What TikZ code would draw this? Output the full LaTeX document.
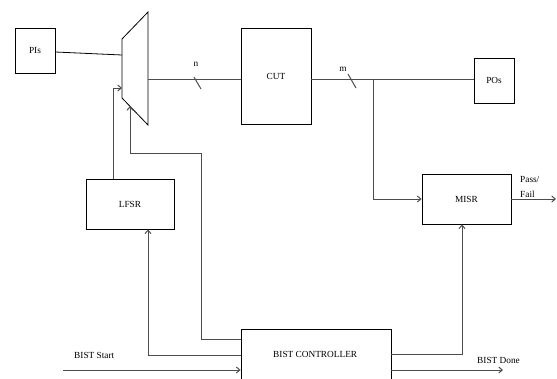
\documentclass[tikz,border=0pt]{standalone}
\usepackage{fontspec}
\setmainfont{Liberation Serif}
\usetikzlibrary{arrows.meta}
\begin{document}
\begin{tikzpicture}[x=1pt,y=-1pt,
  box/.style={draw=black,line width=0.8pt},
  wire/.style={draw=black!70,line width=1pt},
  arr/.style={wire,-{Straight Barb[length=3.5pt,width=6pt]}},
  lbl/.style={font=\fontsize{9.3}{10.5}\selectfont,inner sep=0pt},
  every node/.style={inner sep=0pt}]
\useasboundingbox (0,0) rectangle (557,378);
\clip (0,0) rectangle (557,378);
% boxes
\node[box,minimum width=40pt,minimum height=45pt] (pis) at (35,50.5) {};
\node[lbl] at (pis) {PIs};
\node[box,minimum width=70pt,minimum height=96pt] (cut) at (276,76) {};
\node[lbl] at (276,76) {CUT};
\node[box,minimum width=40pt,minimum height=45pt] (pos) at (494,80.5) {};
\node[lbl] at (pos) {POs};
\node[box,minimum width=89pt,minimum height=50pt] (misr) at (466.5,199) {};
\node[lbl] at (466.5,199) {MISR};
\node[box,minimum width=88pt,minimum height=50pt] (lfsr) at (130,204) {};
\node[lbl] at (130,204) {LFSR};
\node[box,minimum width=150pt,minimum height=70pt] (ctrl) at (316,364) {};
\node[lbl,anchor=west] at (273,354) {BIST CONTROLLER};
% mux
\coordinate (mtl) at (122,39);
\coordinate (mtr) at (148,12);
\coordinate (mbr) at (148,125);
\coordinate (mbl) at (122,98);
\draw[box] (mtl) -- (mtr) -- (mbr) -- (mbl) -- cycle;
\coordinate (muxin) at (122,55);
\coordinate (muxout) at (148,79);
\coordinate (muxsel) at (122,88);
\coordinate (muxctl) at (130,106);
% wires
\draw[box] (pis.east |- 0,52) -- (muxin);
\draw[wire] (muxout) -- (cut.west |- muxout);
\draw[wire] (194,77) -- (201,89);
\node[lbl] at (196,64) {n};
\draw[wire] (cut.east |- 0,79) -- (pos.west |- 0,79);
\draw[wire] (348,74) -- (356,88);
\node[lbl] at (343,69) {m};
\coordinate (br) at (373,79);
\draw[arr] (br) -- (373,199) -- (misr.west);
\draw[arr] (misr.east) -- (556,199);
\node[lbl,anchor=west] at (520,179) {Pass/};
\node[lbl,anchor=west] at (520,194) {Fail};
\draw[arr] (lfsr.north -| 113,0) -- (113,88) -- (muxsel);
\draw[arr] (ctrl.west |- 0,339) -- (201,339) -- (201,153) -- (130,153) -- (muxctl);
\draw[arr] (ctrl.west |- 0,355) -- (148,355) -- (lfsr.south -| 148,0);
\draw[arr] (63,370) -- (ctrl.west |- 0,370);
\node[lbl,anchor=west] at (74,355) {BIST Start};
\draw[arr] (ctrl.east |- 0,354) -- (462,354) -- (misr.south -| 462,0);
\draw[arr] (ctrl.east |- 0,370) -- (503,370);
\node[lbl,anchor=west] at (477,360) {BIST Done};
\end{tikzpicture}
\end{document}
